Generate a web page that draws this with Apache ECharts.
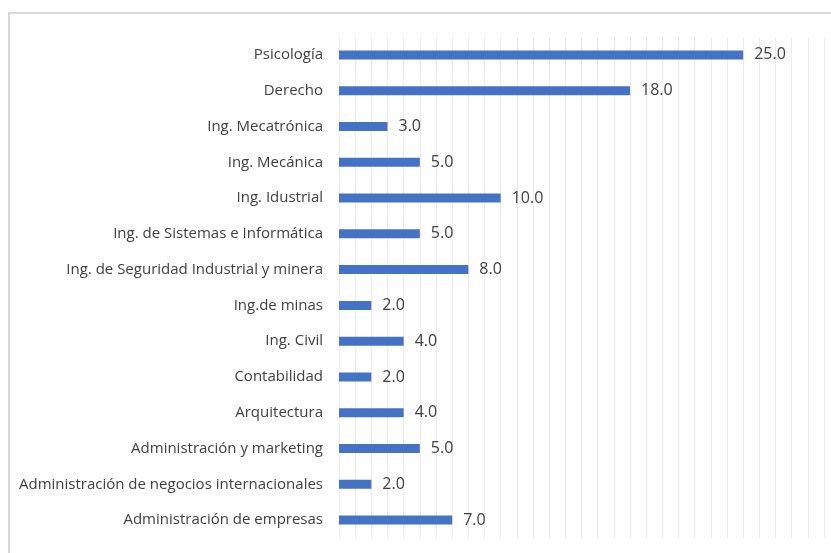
<!DOCTYPE html>
<html>
<head>
<meta charset="utf-8">
<script src="https://cdn.jsdelivr.net/npm/echarts@6/dist/echarts.min.js"></script>
<style>
html,body{margin:0;padding:0;background:#fff;}
#frame{position:absolute;left:8px;top:12px;width:840px;height:560px;border:2px solid #d9d9d9;box-sizing:border-box;}
#chart{position:absolute;left:0;top:0;width:831px;height:553px;}
</style>
</head>
<body>
<div id="frame"></div>
<div id="chart"></div>
<script>
const categories = [
  "Administración de empresas",
  "Administración de negocios internacionales",
  "Administración y marketing",
  "Arquitectura",
  "Contabilidad",
  "Ing. Civil",
  "Ing.de minas",
  "Ing. de Seguridad Industrial y minera",
  "Ing. de Sistemas e Informática",
  "Ing. Idustrial",
  "Ing. Mecánica",
  "Ing. Mecatrónica",
  "Derecho",
  "Psicología"
];
const values = [7, 2, 5, 4, 2, 4, 2, 8, 5, 10, 5, 3, 18, 25];

const FONT = '"Open Sans", sans-serif';
const chart = echarts.init(document.getElementById('chart'), null, {renderer: 'canvas'});
chart.setOption({
  backgroundColor: 'transparent',
  animation: false,
  grid: {left: 339, right: 7, top: 37, bottom: 15, containLabel: false},
  xAxis: {
    type: 'value', min: 0, max: 30, interval: 1,
    axisLabel: {show: false},
    axisLine: {show: false},
    axisTick: {show: false},
    splitLine: {show: true, lineStyle: {color: '#ebebeb', width: 1}}
  },
  yAxis: {
    type: 'category', data: categories,
    axisLine: {show: false},
    axisTick: {show: false},
    axisLabel: {color: '#404040', fontFamily: FONT, fontSize: 15, margin: 16}
  },
  series: [{
    type: 'bar', data: values, barWidth: 9,
    itemStyle: {color: '#4472C4'},
    label: {
      show: true, position: 'right', distance: 11,
      color: '#404040', fontFamily: FONT, fontSize: 16,
      formatter: p => p.value.toFixed(1)
    }
  }]
});
</script>
</body>
</html>
